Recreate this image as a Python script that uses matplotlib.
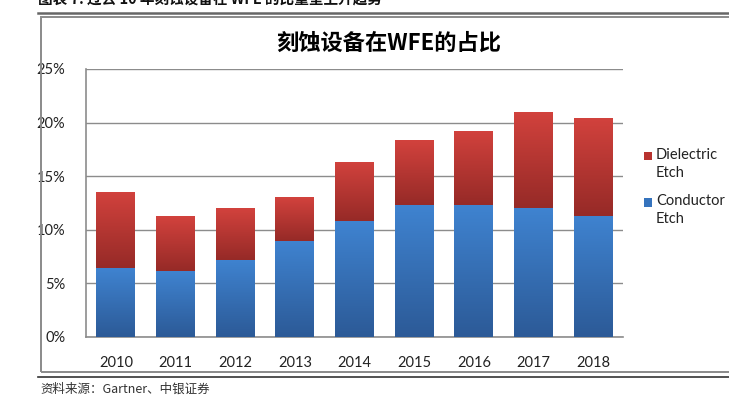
import numpy as np
import matplotlib
matplotlib.use("Agg")
import matplotlib.pyplot as plt
from matplotlib.colors import LinearSegmentedColormap
from matplotlib.patches import Rectangle
from matplotlib.lines import Line2D

plt.rcParams['font.family'] = ['Lato', 'Noto Sans CJK SC', 'DejaVu Sans']

# share of etch equipment in WFE (%)
years = ["2010", "2011", "2012", "2013", "2014", "2015", "2016", "2017", "2018"]
conductor = [6.4, 6.15, 7.2, 9.0, 10.8, 12.3, 12.3, 12.0, 11.3]
dielectric = [7.1, 5.1, 4.8, 4.05, 5.55, 6.05, 6.95, 9.0, 9.15]
yticks = [0, 5, 10, 15, 20, 25]

title = "刻蚀设备在WFE的占比"
header = "图表 7: 过去 10 年刻蚀设备在 WFE 的比重呈上升趋势"
source = "资料来源：Gartner、中银证券"

W, H = 729, 408
fig = plt.figure(figsize=(W / 100, H / 100), dpi=100)


def fx(px):
    return px / W


def fy(py):
    return 1 - py / H


ax = fig.add_axes([fx(86), fy(337), fx(623) - fx(86), fy(69) - fy(337)])
x = np.arange(len(years))
bars_c = ax.bar(x, conductor, width=0.65, color="#3A78C2", zorder=3)
bars_d = ax.bar(x, dielectric, bottom=conductor, width=0.65, color="#BC3733", zorder=3)


def shade(bars, top, bottom):
    # vertical gradient like the Excel fill: light at top, dark at bottom
    cmap = LinearSegmentedColormap.from_list("g", [bottom, top])
    grad = np.linspace(0, 1, 128).reshape(-1, 1)
    for p in bars:
        x0, y0 = p.get_x(), p.get_y()
        im = ax.imshow(grad, extent=[x0, x0 + p.get_width(), y0, y0 + p.get_height()],
                       origin="lower", cmap=cmap, aspect="auto", zorder=4)
        im.set_clip_path(p)


shade(bars_c, "#3F83D0", "#2C5A97")
shade(bars_d, "#D2423D", "#962A27")

ax.set_xlim(-0.5, len(years) - 0.5)
ax.set_ylim(0, 25)
ax.set_xticks(x)
ax.set_xticklabels(years)
ax.set_yticks(yticks)
ax.set_yticklabels([f"{v}%" for v in yticks])
ax.tick_params(length=0, labelsize=10.5, colors="#222222")
ax.tick_params(axis="y", pad=15)
ax.tick_params(axis="x", pad=14)
ax.set_axisbelow(True)
ax.yaxis.grid(True, color="#8c8c8c", lw=1)
for s in ("top", "right"):
    ax.spines[s].set_visible(False)
for s in ("left", "bottom"):
    ax.spines[s].set_color("#8c8c8c")
    ax.spines[s].set_linewidth(1.2)

# legend drawn by hand so the swatch sits on the first line
for col, lab, yc in [("#B8332F", "Dielectric\nEtch", 156.5), ("#3573BD", "Conductor\nEtch", 202.5)]:
    fig.add_artist(Rectangle((fx(644), fy(yc + 4)), fx(8), 8 / H, transform=fig.transFigure,
                             facecolor=col, edgecolor="none"))
    fig.text(fx(656), fy(yc - 8.5), lab, fontsize=10.5, va="top", ha="left",
             color="#222222", linespacing=1.35)

fig.text(fx(389), fy(43), title, fontsize=16, fontweight="bold", ha="center", va="center",
         family=["Noto Sans CJK SC", "DejaVu Sans"])

# outer frame and page rules
fig.add_artist(Rectangle((fx(40.7), fy(371.7)), 1.0, (371.7 - 16.7) / H, transform=fig.transFigure,
                         fill=False, edgecolor="#8a8a8a", lw=1.4))
fig.add_artist(Line2D([fx(38), 1], [fy(12.7)] * 2, color="#666666", lw=1.8))
fig.add_artist(Line2D([fx(38), 1], [fy(376.7)] * 2, color="#333333", lw=1.2))

# the page header is cut at the top edge in the original crop
fig.text(fx(38), fy(5), header, fontsize=10.5, fontweight="bold", ha="left", va="baseline",
         family=["Noto Sans CJK SC", "DejaVu Sans"], color="#111111")
fig.text(fx(40), fy(389), source, fontsize=9, ha="left", va="center", style="italic",
         family=["Noto Sans CJK SC", "DejaVu Sans"], color="#333333")

fig.savefig("out.png", dpi=100)
